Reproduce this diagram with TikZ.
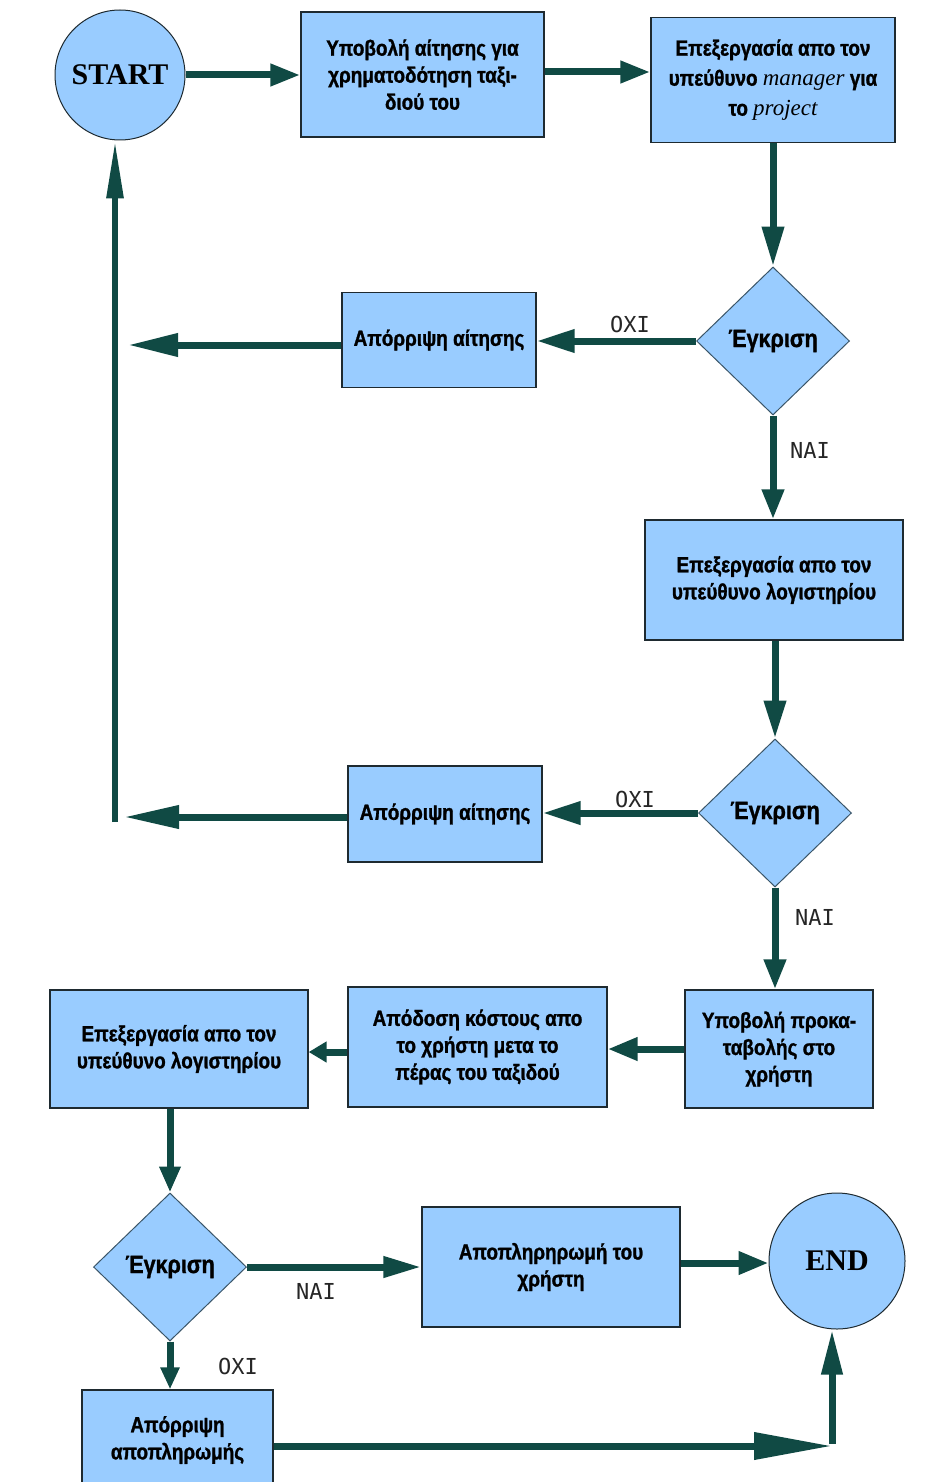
\documentclass[tikz,border=0pt]{standalone}
\usepackage{fontspec}
\setmainfont{Liberation Sans}
\newfontfamily\boxfont{Liberation Sans}[FakeStretch=0.86, BoldFeatures={FakeBold=1.2}]
\newfontfamily\termfont{Liberation Serif}
\newfontfamily\labfont{DejaVu Sans Mono}
\usetikzlibrary{shapes.geometric,arrows.meta}
\definecolor{boxfill}{HTML}{99CCFF}
\definecolor{boxline}{HTML}{1E2A30}
\definecolor{dline}{HTML}{3A5568}
\definecolor{arrowc}{HTML}{104A44}
\tikzset{
  stepbox/.style={draw=boxline, fill=boxfill, line width=1.3pt, align=center,
    inner sep=0pt, font=\boxfont\bfseries\fontsize{22}{27}\selectfont},
  decision/.style={diamond, draw=dline, fill=boxfill, line width=1pt,
    minimum width=153pt, minimum height=148pt, inner sep=0pt,
    font=\boxfont\bfseries\fontsize{25}{28}\selectfont},
  terminal/.style={circle, draw=boxline, fill=boxfill, line width=1pt,
    minimum size=130pt, inner sep=0pt,
    font=\termfont\bfseries\fontsize{30}{32}\selectfont},
  flow/.style={draw=arrowc, line width=7pt, -{Triangle[length=30pt,width=21pt]}},
  longflow/.style={draw=arrowc, line width=7pt, -{Triangle[length=50pt,width=22pt]}},
  plainflow/.style={draw=arrowc, line width=7pt},
  answer/.style={font=\labfont\fontsize{22}{24}\selectfont, text=black!85}
}
\newcommand{\termit}[1]{{\termfont\mdseries\itshape\fontsize{23}{27}\selectfont #1}}
\begin{document}
\begin{tikzpicture}[x=1pt,y=-1pt]
\useasboundingbox (0,0) rectangle (928,1482);
\clip (0,0) rectangle (928,1482);

% first row
\node[terminal] (start) at (120,75) {START};
\node[stepbox, minimum width=243pt, minimum height=125pt] (b1) at (422.5,74.5)
  {Υποβολή αίτησης για\\χρηματοδότηση ταξι-\\διού του};
\node[stepbox, minimum width=244pt, minimum height=125pt, font=\boxfont\bfseries\fontsize{22}{30}\selectfont] (b2) at (773,80)
  {Επεξεργασία απο τον\\υπεύθυνο \termit{manager} για\\το \termit{project}};

% first approval
\node[decision] (d1) at (773,341) {Έγκριση};
\node[stepbox, minimum width=194pt, minimum height=95pt] (r1) at (439,340)
  {Απόρριψη αίτησης};
\coordinate (l1) at (128,345);

\node[stepbox, minimum width=258pt, minimum height=120pt] (b3) at (774,580)
  {Επεξεργασία απο τον\\υπεύθυνο λογιστηρίου};

% second approval
\node[decision] (d2) at (775,813) {Έγκριση};
\node[stepbox, minimum width=194pt, minimum height=96pt] (r2) at (445,814)
  {Απόρριψη αίτησης};
\coordinate (l2) at (124,817);
\coordinate (up) at (115,822);

% third row
\node[stepbox, minimum width=188pt, minimum height=118pt] (b5) at (779,1049)
  {Υποβολή προκα-\\ταβολής στο\\χρήστη};
\node[stepbox, minimum width=259pt, minimum height=120pt] (b6) at (477.5,1047)
  {Απόδοση κόστους απο\\το χρήστη μετα το\\πέρας του ταξιδού};
\node[stepbox, minimum width=258pt, minimum height=118pt] (b7) at (179,1049)
  {Επεξεργασία απο τον\\υπεύθυνο λογιστηρίου};

% final approval
\node[decision] (d3) at (170,1267) {Έγκριση};
\node[stepbox, minimum width=258pt, minimum height=120pt] (b8) at (551,1267)
  {Αποπληρηρωμή του\\χρήστη};
\node[terminal, minimum size=136pt] (end) at (837,1261) {END};
\node[stepbox, minimum width=191pt, minimum height=100pt] (b9) at (177.5,1440)
  {Απόρριψη\\αποπληρωμής};
\coordinate (corner) at (832,1446);

% connectors
\draw[flow] (start) -- (start -| b1.west);
\draw[flow] (b1.east |- 0,72) -- (b2.west |- 0,72);
\draw[flow, -{Triangle[length=40pt,width=21pt]}] (b2.south) -- (d1.north);
\draw[flow, -{Triangle[length=38pt,width=22pt]}] (d1.west) -- (d1.west -| r1.east);
\draw[longflow] (r1.west |- l1) -- (l1);
\draw[flow] (d1.south) -- (b3.north -| d1.south);
\draw[flow, -{Triangle[length=38pt,width=21pt]}] (b3.south -| d2.north) -- (d2.north);
\draw[flow, -{Triangle[length=38pt,width=22pt]}] (d2.west) -- (d2.west -| r2.east);
\draw[longflow, -{Triangle[length=55pt,width=22pt]}] (r2.west |- l2) -- (l2);
\draw[plainflow, line width=6pt, -{Triangle[length=58pt,width=16pt]}] (up) -- (up |- start.south);
\draw[flow] (d2.south) -- (d2.south |- b5.north);
\draw[flow, -{Triangle[length=30pt,width=22pt]}] (b5.west) -- (b5.west -| b6.east);
\draw[flow, -{Triangle[length=18pt,width=20pt]}] (b6.west |- 0,1052) -- (b7.east |- 0,1052);
\draw[flow, -{Triangle[length=26pt,width=20pt]}] (b7.south -| d3.north) -- (d3.north);
\draw[flow, -{Triangle[length=38pt,width=20pt]}] (d3.east) -- (d3.east -| b8.west);
\draw[flow, -{Triangle[length=30pt,width=22pt]}] (b8.east |- 0,1263) -- (end.west |- 0,1263);
\draw[flow, -{Triangle[length=22pt,width=18pt]}] (d3.south) -- (d3.south |- b9.north);
\draw[flow, -{Triangle[length=78pt,width=26pt]}] (b9.east |- corner) -- (corner);
\draw[flow, -{Triangle[length=45pt,width=20pt]}] ([yshift=2pt]corner) -- (corner |- end.south);

% answers
\node[answer] (n1) at (630,324) {ΟΧΙ};
\node[answer] (y1) at (810,450) {ΝΑΙ};
\node[answer] (n2) at (635,799) {ΟΧΙ};
\node[answer] (y2) at (815,917) {ΝΑΙ};
\node[answer] (y3) at (316,1291) {ΝΑΙ};
\node[answer] (n3) at (238,1366) {ΟΧΙ};
\end{tikzpicture}
\end{document}
